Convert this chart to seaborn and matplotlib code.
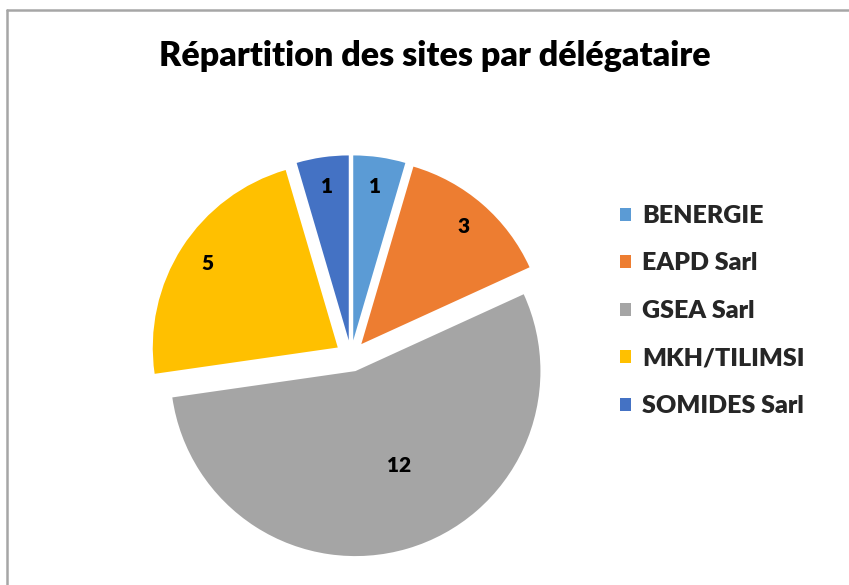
import numpy as np
import seaborn as sns
import matplotlib.pyplot as plt
from matplotlib.lines import Line2D
from matplotlib.patches import Patch

# data
delegataires = ["BENERGIE", "EAPD Sarl", "GSEA Sarl", "MKH/TILIMSI", "SOMIDES Sarl"]
nb_sites = [1, 3, 12, 5, 1]
couleurs = ["#5B9BD5", "#ED7D31", "#A5A5A5", "#FFC000", "#4472C4"]
titre = "Répartition des sites par délégataire"

sns.set_theme(style="white")
plt.rcParams['font.family'] = ['Lato', 'DejaVu Sans']

W, H = 849, 585
fig = plt.figure(figsize=(W / 100, H / 100), dpi=100)
fig.patch.set_facecolor("white")

# pie axes: radius 1 in data units = r_px pixels, centered at (cx, cy) image pixels
r_px = 185
cx, cy = 351, 356
half = 1.5
side = 2 * half * r_px
ax = fig.add_axes([(cx - side / 2) / W, (H - cy - side / 2) / H, side / W, side / H])

wedges, texts, autotexts = ax.pie(
    nb_sites,
    colors=couleurs,
    explode=[0.085] * len(nb_sites),
    startangle=90,
    counterclock=False,
    autopct=lambda p: f"{round(p * sum(nb_sites) / 100):d}",
    pctdistance=0.84,
    wedgeprops=dict(linewidth=0),
    textprops=dict(fontsize=15, fontweight=800, color="black"),
)
ax.set_xlim(-half, half)
ax.set_ylim(-half, half)
ax.axis("off")

# the big slice label sits closer to the centre, a bit right of the bisector
i_big = int(np.argmax(nb_sites))
w = wedges[i_big]
mid = np.deg2rad((w.theta1 + w.theta2) / 2 + 8.5)
autotexts[i_big].set_position((w.center[0] + 0.56 * np.cos(mid), w.center[1] + 0.56 * np.sin(mid)))

fig.text(435 / W, 1 - 56 / H, titre, ha="center", va="center",
         fontsize=24.5, fontweight=800, color="black")

handles = [Patch(facecolor=c, edgecolor="none") for c in couleurs]
fig.legend(handles, delegataires, loc="upper left",
           bbox_to_anchor=(620 / W, 1 - 205 / H), frameon=False,
           prop=dict(size=18, weight=800),
           handlelength=0.42, handleheight=0.42, handletextpad=0.45,
           labelspacing=1.02, borderaxespad=0, borderpad=0)

# chart frame (only top and left edges are visible in the crop)
fig.add_artist(Line2D([6.5 / W, 1], [1 - 10 / H, 1 - 10 / H], color="#A6A6A6", lw=1.8))
fig.add_artist(Line2D([6.5 / W, 6.5 / W], [0, 1 - 10 / H], color="#A6A6A6", lw=1.8))

fig.savefig("out.png", dpi=100)
